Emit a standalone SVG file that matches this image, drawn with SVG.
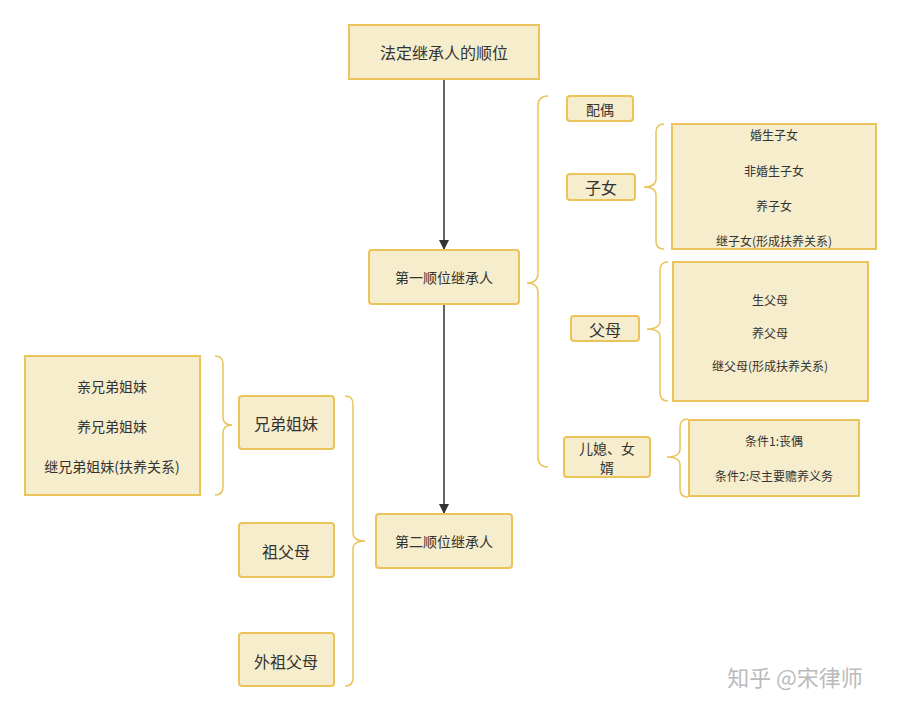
<svg xmlns="http://www.w3.org/2000/svg" width="901" height="712" viewBox="0 0 901 712">
<style>
.n{fill:#f6edcc;stroke:#eac45a;stroke-width:2}
.b{fill:none;stroke:#eac45a;stroke-width:1.5}
text{font-family:"Noto Sans CJK SC","Noto Sans",sans-serif;fill:#333;text-anchor:middle;dominant-baseline:central}
.s{font-size:12px}.m{font-size:14px}.l{font-size:16px}
</style>
<defs><marker id="a" viewBox="0 0 10 10" refX="9" refY="5" markerWidth="7" markerHeight="7" orient="auto"><path d="M0,0L10,5L0,10z" fill="#333"/></marker></defs>
<rect width="901" height="712" fill="#fff"/>
<g id="connectors">
<line x1="444" y1="80" x2="444" y2="249" stroke="#333" stroke-width="1.5" marker-end="url(#a)"/>
<line x1="444" y1="305" x2="444" y2="513" stroke="#333" stroke-width="1.5" marker-end="url(#a)"/>
<path class="b" d="M548,96 Q538,96 538,106 V273 Q538,283 527,283 Q538,283 538,293 V457 Q538,467 548,467"/>
<path class="b" d="M664,124 Q656,124 656,132 V179 Q656,187 644,187 Q656,187 656,195 V241 Q656,249 664,249"/>
<path class="b" d="M668,262 Q660,262 660,270 V321 Q660,329 647,329 Q660,329 660,337 V393 Q660,401 668,401"/>
<path class="b" d="M688,419 Q680,419 680,427 V449 Q680,457 667,457 Q680,457 680,465 V489 Q680,497 688,497"/>
<path class="b" d="M215,356 Q223,356 223,364 V417 Q223,425 232,425 Q223,425 223,433 V487 Q223,495 215,495"/>
<path class="b" d="M345,396 Q353,396 353,404 V533 Q353,541 365,541 Q353,541 353,549 V678 Q353,686 345,686"/>
</g>
<g id="root"><rect class="n" x="349" y="25" width="190" height="54"/><text class="l" x="444" y="52">法定继承人的顺位</text></g>
<g id="first"><rect class="n" x="369" y="250" width="150" height="54" rx="3"/><text class="m" x="444" y="277">第一顺位继承人</text></g>
<g id="second"><rect class="n" x="376" y="514" width="136" height="54" rx="3"/><text class="m" x="444" y="541">第二顺位继承人</text></g>
<g id="spouse"><rect class="n" x="567" y="96" width="66" height="25" rx="3"/><text class="m" x="600" y="109">配偶</text></g>
<g id="children"><rect class="n" x="567" y="174" width="68" height="26" rx="3"/><text class="l" x="601" y="187">子女</text></g>
<g id="children-list"><rect class="n" x="672" y="124" width="204" height="125"/>
<text class="s" x="774" y="134">婚生子女</text><text class="s" x="774" y="170">非婚生子女</text><text class="s" x="774" y="205">养子女</text><text class="s" x="774" y="240">继子女(形成扶养关系)</text></g>
<g id="parents"><rect class="n" x="571" y="316" width="68" height="25" rx="3"/><text class="l" x="605" y="329">父母</text></g>
<g id="parents-list"><rect class="n" x="673" y="262" width="195" height="139"/>
<text class="s" x="770" y="299">生父母</text><text class="s" x="770" y="332">养父母</text><text class="s" x="770" y="365">继父母(形成扶养关系)</text></g>
<g id="inlaws"><rect class="n" x="564" y="437" width="86" height="40" rx="3"/><text class="m" x="607" y="448">儿媳、女</text><text class="m" x="607" y="467">婿</text></g>
<g id="inlaws-list"><rect class="n" x="689" y="420" width="170" height="76"/>
<text class="s" x="774" y="440">条件1:丧偶</text><text class="s" x="774" y="475">条件2:尽主要赡养义务</text></g>
<g id="siblings-list"><rect class="n" x="25" y="356" width="175" height="139"/>
<text class="m" x="112" y="386">亲兄弟姐妹</text><text class="m" x="112" y="426">养兄弟姐妹</text><text class="m" x="112" y="466">继兄弟姐妹(扶养关系)</text></g>
<g id="siblings"><rect class="n" x="239" y="396" width="95" height="53" rx="3"/><text class="l" x="286" y="423">兄弟姐妹</text></g>
<g id="grandparents"><rect class="n" x="239" y="523" width="95" height="54" rx="3"/><text class="l" x="286" y="551">祖父母</text></g>
<g id="maternal-grandparents"><rect class="n" x="239" y="633" width="95" height="53" rx="3"/><text class="l" x="286" y="661">外祖父母</text></g>
<text x="795" y="676" style="font-size:22px;fill:#bbb">知乎 @宋律师</text>
</svg>
